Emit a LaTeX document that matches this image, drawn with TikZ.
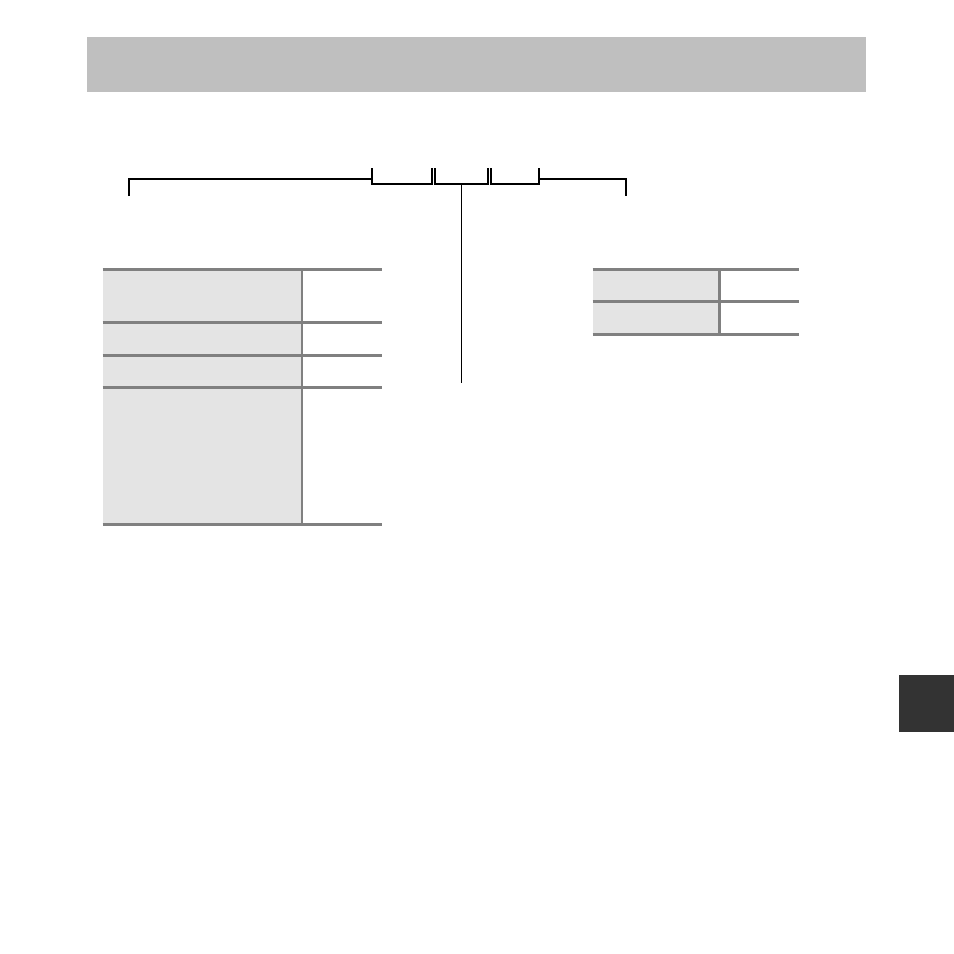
\documentclass[tikz,border=0pt]{standalone}
\begin{document}
\begin{tikzpicture}[x=1pt,y=-1pt,
  bracketline/.style={draw=black,line width=2pt},
  stemline/.style={draw=black,line width=1.2pt},
  tablerule/.style={draw=black!50,line width=2.7pt},
  cellfill/.style={fill=black!10.5},
]
\useasboundingbox (0,0) rectangle (954,954);
\fill[white] (0,0) rectangle (954,954);
% header band
\fill[black!25] (87,37) rectangle (866,91.7);
% dark tab
\fill[black!80] (899,675) rectangle (954,731.7);
% bracket
\draw[bracketline] (128.6,196) -- (128.6,179.3) -- (371.6,179.3);
\draw[bracketline] (371.6,168) -- (371.6,184.3) -- (431.8,184.3) -- (431.8,168);
\draw[bracketline] (435.4,168) -- (435.4,184.3) -- (487.5,184.3) -- (487.5,168);
\draw[bracketline] (490.7,168) -- (490.7,184.3) -- (539,184.3) -- (539,168);
\draw[bracketline] (539,179.3) -- (626,179.3) -- (626,196);
\coordinate (stemtop) at (461.4,184.3);
\coordinate (stembot) at (461.4,383);
\draw[stemline] (stemtop) -- (stembot);
% left table
\fill[cellfill] (102.7,269.3) rectangle (302,524.3);
\foreach \yy in {269.3,322.3,355.3,387.3,524.3}
  \draw[tablerule] (102.7,\yy) -- (382,\yy);
\draw[tablerule] (302,269.3) -- (302,524.3);
% right table
\fill[cellfill] (592.7,269.3) rectangle (719.7,334.3);
\foreach \yy in {269.3,301.7,334.3}
  \draw[tablerule] (592.7,\yy) -- (799,\yy);
\draw[tablerule] (719.7,269.3) -- (719.7,334.3);
\end{tikzpicture}
\end{document}
